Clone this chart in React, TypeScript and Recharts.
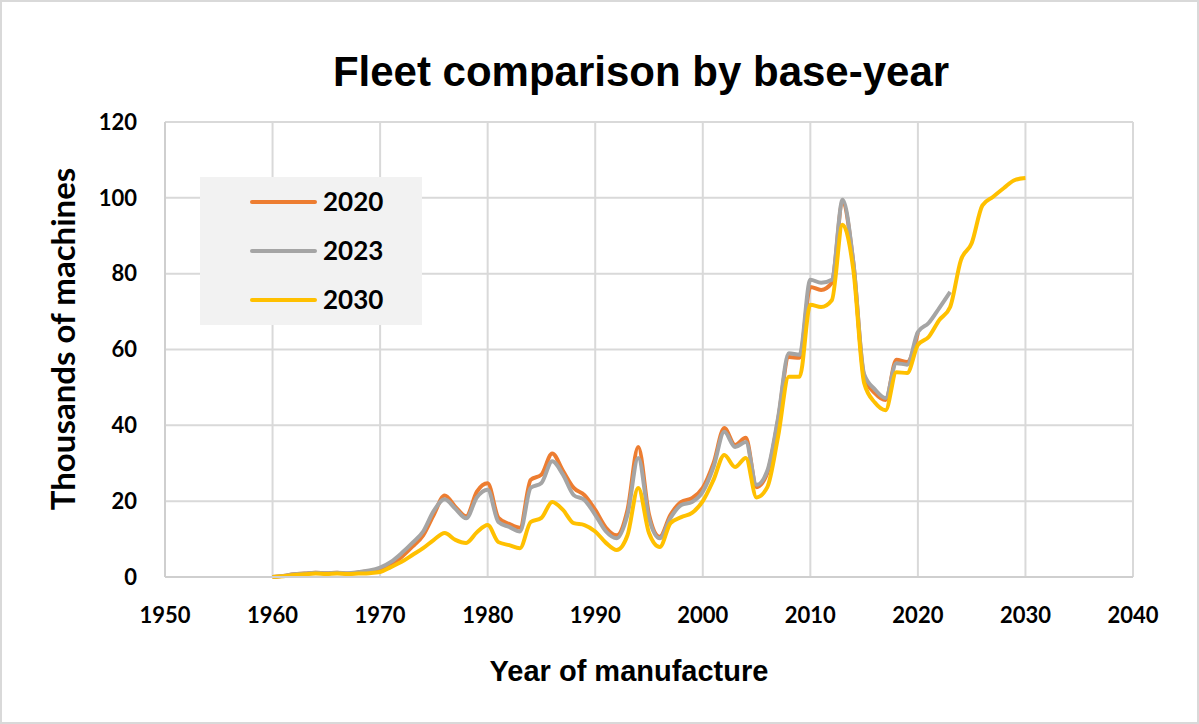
import React from 'react';
import { LineChart, Line, XAxis, YAxis, CartesianGrid, Legend } from 'recharts';

// year of manufacture, one row per year
const years: number[] = Array.from({ length: 71 }, (_, i) => 1960 + i);

// thousands of machines, fleet as counted in base-year 2020 (1960-2020)
const base2020: number[] = [
  0, 0.3, 0.7, 0.9, 1.1, 1.0, 1.1, 0.9, 1.2, 1.5,
  2.0, 3.2, 5.3, 8.0, 11.0, 16.5, 21.5, 18.5, 16.0, 22.5,
  24.7, 15.6, 14.0, 13.0, 25.6, 27.0, 32.6, 28.0, 23.5, 21.6,
  17.7, 13.0, 11.0, 17.7, 34.3, 16.5, 10.6, 16.4, 19.8, 20.8,
  23.5, 30.0, 39.3, 34.8, 36.7, 23.7, 27.4, 41.4, 58.0, 57.8,
  76.5, 75.7, 77.6, 98.7, 82.8, 52.8, 48.5, 46.7, 57.3, 56.7,
  64.4,
];

// base-year 2023 (1960-2023)
const base2023: number[] = [
  0, 0.3, 0.7, 0.9, 1.1, 1.0, 1.1, 1.0, 1.3, 1.7,
  2.5, 4.0, 6.3, 9.0, 12.0, 17.5, 20.5, 18.0, 15.5, 21.0,
  23.0, 14.5, 13.2, 12.0, 23.5, 24.8, 30.5, 27.0, 21.6, 20.3,
  16.4, 12.0, 10.2, 16.4, 31.4, 15.5, 10.2, 15.6, 19.0, 19.8,
  22.5, 29.0, 38.3, 34.3, 35.6, 24.3, 28.0, 42.0, 59.0, 58.6,
  78.4, 77.6, 78.4, 99.5, 83.0, 53.5, 49.5, 47.2, 56.4, 56.0,
  64.6, 67.0, 71.0, 75.2,
];

// base-year 2030 (1960-2030)
const base2030: number[] = [
  0, 0.2, 0.5, 0.7, 0.9, 0.8, 0.9, 0.8, 0.9, 1.0,
  1.3, 2.6, 4.0, 5.8, 7.6, 9.8, 11.6, 9.8, 9.0, 11.8,
  13.7, 9.2, 8.4, 7.6, 14.5, 15.6, 19.8, 17.7, 14.2, 13.7,
  12.0, 9.0, 7.1, 11.0, 23.5, 11.6, 7.9, 14.2, 15.8, 16.9,
  20.0, 25.6, 32.2, 29.0, 31.4, 21.0, 23.7, 37.0, 52.8, 52.8,
  71.8, 71.2, 73.0, 92.9, 81.0, 51.2, 46.0, 44.0, 54.0, 53.8,
  61.2, 63.3, 67.8, 71.2, 83.6, 88.0, 98.0, 100.3, 102.6, 104.7,
  105.2,
];

const xTicks = [1950, 1960, 1970, 1980, 1990, 2000, 2010, 2020, 2030, 2040];
const yTicks = [0, 20, 40, 60, 80, 100, 120];

const data = years.map((year, i) => ({
  year,
  b2020: base2020[i],
  b2023: base2023[i],
  b2030: base2030[i],
}));

const W = 1199;
const H = 724;
const tickFont = { fontFamily: 'Lato, sans-serif', fontWeight: 700, fontSize: 22, fill: '#000' };

const LegendBox = (props: any) => {
  const payload = props.payload || [];
  return (
    <div style={{ position: 'relative', width: 222, height: 148, background: '#f2f2f2' }}>
      {payload.map((p: any, i: number) => (
        <React.Fragment key={p.value}>
          <div
            style={{
              position: 'absolute', left: 50, top: 23 + 49 * i, width: 67, height: 4,
              borderRadius: 2, background: p.color,
            }}
          />
          <span
            style={{
              position: 'absolute', left: 123, top: 9 + 49 * i, lineHeight: '30px',
              fontFamily: 'Lato, sans-serif', fontWeight: 700, fontSize: 26, color: '#000',
            }}
          >
            {p.value}
          </span>
        </React.Fragment>
      ))}
    </div>
  );
};

export default function App() {
  return (
    <div style={{ position: 'absolute', left: 0, top: 0, width: W, height: H, background: '#fff' }}>
      <div
        style={{
          position: 'absolute', left: 0, top: 51, width: 1282, textAlign: 'center',
          fontFamily: '"Liberation Sans", Arial, sans-serif', fontWeight: 700, fontSize: 42,
          lineHeight: '42px', color: '#000',
        }}
      >
        Fleet comparison by base-year
      </div>
      <div
        style={{
          position: 'absolute', left: 0, top: 657, width: 1258, textAlign: 'center',
          fontFamily: '"Liberation Sans", Arial, sans-serif', fontWeight: 700, fontSize: 29,
          lineHeight: '29px', color: '#000',
        }}
      >
        Year of manufacture
      </div>
      <div style={{ position: 'absolute', left: 62, top: 339, width: 0, height: 0 }}>
        <div
          style={{
            position: 'absolute', left: -250, top: -19, width: 500, textAlign: 'center',
            transform: 'rotate(-90deg)', fontFamily: 'Lato, sans-serif', fontWeight: 700,
            fontSize: 33, lineHeight: '38px', color: '#000', whiteSpace: 'nowrap',
          }}
        >
          Thousands of machines
        </div>
      </div>
      <LineChart
        width={W}
        height={H}
        data={data}
        margin={{ top: 122, right: 66, bottom: 97, left: 105 }}
        style={{ position: 'absolute', left: 0, top: 0 }}
      >
        <CartesianGrid stroke="#d9d9d9" strokeWidth={2} />
        <XAxis
          dataKey="year"
          type="number"
          domain={[1950, 2040]}
          ticks={xTicks}
          height={50}
          tickLine={false}
          axisLine={{ stroke: '#cfcfcf', strokeWidth: 2 }}
          tickMargin={24}
          tick={tickFont}
          interval={0}
        />
        <YAxis
          type="number"
          domain={[0, 120]}
          ticks={yTicks}
          width={60}
          tickLine={false}
          axisLine={{ stroke: '#cfcfcf', strokeWidth: 2 }}
          tickMargin={22}
          tick={tickFont}
          interval={0}
        />
        <Legend
          layout="vertical"
          align="center"
          verticalAlign="middle"
          content={<LegendBox />}
          wrapperStyle={{ position: 'absolute', left: 200, top: 177, width: 222, height: 148 }}
        />
        <Line
          name="2020"
          dataKey="b2020"
          type="monotone"
          stroke="#ED7D31"
          strokeWidth={4}
          dot={false}
          activeDot={false}
          isAnimationActive={false}
        />
        <Line
          name="2023"
          dataKey="b2023"
          type="monotone"
          stroke="#A5A5A5"
          strokeWidth={4}
          dot={false}
          activeDot={false}
          isAnimationActive={false}
        />
        <Line
          name="2030"
          dataKey="b2030"
          type="monotone"
          stroke="#FFC000"
          strokeWidth={4}
          dot={false}
          activeDot={false}
          isAnimationActive={false}
        />
      </LineChart>
      <div
        style={{
          position: 'absolute', left: 0, top: 0, width: W, height: H, boxSizing: 'border-box',
          border: '2px solid #d9d9d9', pointerEvents: 'none',
        }}
      />
    </div>
  );
}
